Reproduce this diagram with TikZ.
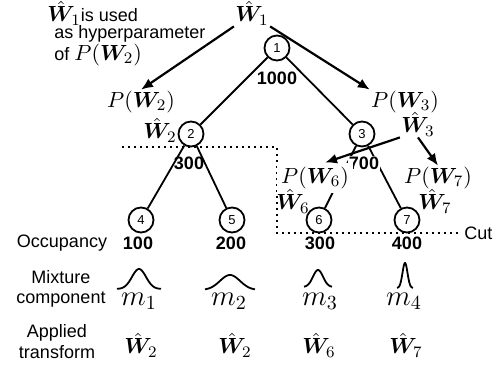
\documentclass[tikz,border=0pt]{standalone}
\usepackage{amsmath}
\usepackage{bm}
\usepackage[no-math]{fontspec}
\setmainfont{Liberation Sans}
\usetikzlibrary{arrows.meta}
\newcommand{\mbig}[1]{{\fontsize{10.95}{12}\selectfont$#1$}}
\begin{document}
\begin{tikzpicture}[x=0.5pt,y=-0.5pt,
  tn/.style={circle,draw,line width=0.9pt,minimum size=12.5pt,inner sep=0pt,fill=white,font=\fontsize{6.5}{7}\selectfont},
  lbl/.style={font=\fontsize{9}{10}\selectfont,inner sep=0.5pt},
  num/.style={font=\fontsize{9}{10}\selectfont\bfseries,inner sep=0.5pt},
  mth/.style={font=\fontsize{10.95}{12}\selectfont,inner sep=0.5pt},
  mlab/.style={font=\fontsize{14.4}{16}\selectfont,inner sep=0.5pt},
  edge/.style={line width=0.9pt},
  arr/.style={line width=1.1pt,-{Latex[length=6pt,width=5pt]}},
  cutline/.style={dotted,line width=1pt},
  gauss/.style={line width=0.9pt}]
\useasboundingbox (0,0) rectangle (499,368);

% tree nodes
\node[tn] (n1) at (277,48) {1};
\node[tn] (n2) at (191,134) {2};
\node[tn] (n3) at (362,134) {3};
\node[tn] (n4) at (141,220) {4};
\node[tn] (n5) at (232,220) {5};
\node[tn] (n6) at (319,220) {6};
\node[tn] (n7) at (407,220) {7};

% tree edges
\draw[edge] (n1) -- (n2);
\draw[edge] (n1) -- (n3);
\draw[edge] (n2) -- (n4);
\draw[edge] (n2) -- (n5);
\draw[edge] (n3) -- (n6);
\draw[edge] (n3) -- (n7);

% cut line
\coordinate (c0) at (122,147);
\coordinate (c1) at (277,147);
\coordinate (c2) at (277,233);
\coordinate (c3) at (460,233);
\draw[cutline] (c0) -- (c1) -- (c2) -- (c3);
\node[lbl,anchor=west] (cut) at (463,233) {Cut};

% annotation
\node[lbl,anchor=west] (t1) at (46,13) {\mbig{\hat{\bm W}_1}is used};
\node[lbl,anchor=west] (t2) at (53,34) {as hyperparameter};
\node[lbl,anchor=west] (t3) at (53,55) {of \mbig{P(\bm W_2)}};

% labels
\node[mth] (w1) at (252,13) {$\hat{\bm W}_1$};
\node[num] (o1000) at (277,78) {1000};
\node[mth] (p2) at (141,102) {$P(\bm W_2)$};
\node[mth] (w2) at (160,130) {$\hat{\bm W}_2$};
\node[num] (o300a) at (189,163) {300};
\node[mth] (p3) at (405,102) {$P(\bm W_3)$};
\node[mth] (w3) at (418,124) {$\hat{\bm W}_3$};
\node[num,fill=white] (o700) at (364,163) {700};
\node[mth,fill=white,inner sep=2pt] (p6) at (315,178) {$P(\bm W_6)$};
\node[mth] (w6) at (293,201) {$\hat{\bm W}_6$};
\node[mth] (p7) at (438,178) {$P(\bm W_7)$};
\node[mth] (w7) at (435,201) {$\hat{\bm W}_7$};

% arrows
\draw[arr] (w1.south west) -- (p2.north);
\draw[arr] (w1.south east) -- (p3.north west);
\draw[arr] (w3.south west) -- ([xshift=5pt]p6.north);
\draw[arr] (w3.south) -- (p7.north);

% row labels
\node[lbl] (occ) at (62,243) {Occupancy};
\node[lbl,align=center,font=\fontsize{9}{10}\selectfont] (mix) at (61,289) {Mixture\\component};
\node[lbl,align=center,font=\fontsize{9}{10.5}\selectfont] (app) at (57,342) {Applied\\transform};

% occupancy
\node[num] (oc4) at (138,243) {100};
\node[num] (oc5) at (231,243) {200};
\node[num] (oc6) at (320,243) {300};
\node[num] (oc7) at (407,243) {400};

% gaussians
\draw[gauss] plot[domain=-22:22,samples=60] ({139+\x},{289-20*exp(-(\x*\x)/98)});
\draw[gauss] plot[domain=-25:25,samples=60] ({230+\x},{290-15*exp(-(\x*\x)/200)});
\draw[gauss] plot[domain=-14:14,samples=60] ({318+\x},{287-17*exp(-(\x*\x)/50)});
\draw[gauss] plot[domain=-8:8,samples=60] ({405+\x},{288-25*exp(-(\x*\x)/12.5)});

% mixture labels
\node[mlab] (m1) at (139,301) {$m_1$};
\node[mlab] (m2) at (229,301) {$m_2$};
\node[mlab] (m3) at (320,301) {$m_3$};
\node[mlab] (m4) at (404,301) {$m_4$};

% applied transforms
\node[mth] (a4) at (141,345) {$\hat{\bm W}_2$};
\node[mth] (a5) at (235,345) {$\hat{\bm W}_2$};
\node[mth] (a6) at (319,345) {$\hat{\bm W}_6$};
\node[mth] (a7) at (406,345) {$\hat{\bm W}_7$};
\end{tikzpicture}
\end{document}
